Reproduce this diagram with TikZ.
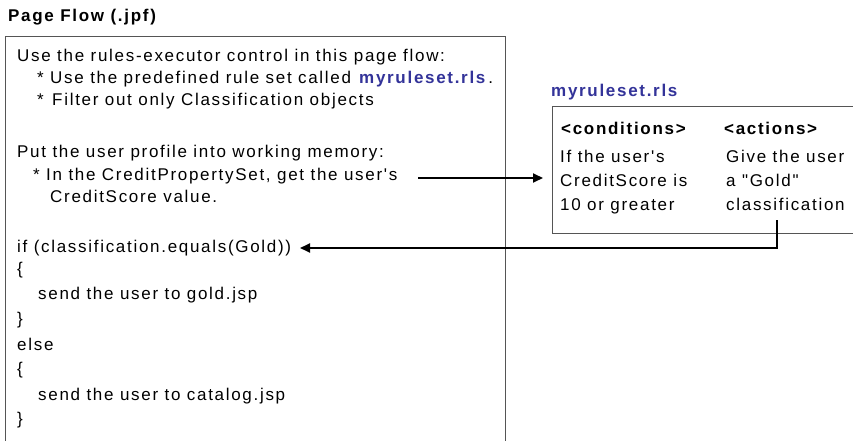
\documentclass[tikz,border=0pt]{standalone}
\usepackage{fontspec}
\setmainfont{Liberation Sans}[LetterSpace=10,Ligatures=TeXOff]
\usetikzlibrary{arrows.meta}
\definecolor{rsblue}{RGB}{51,51,153}
\definecolor{boxgray}{RGB}{85,85,85}
\tikzset{
  txt/.style={font=\fontsize{17}{20}\selectfont, inner sep=0pt, anchor=base west, text=black},
  boxframe/.style={draw=boxgray, line width=1.3pt, inner sep=0pt, anchor=north west},
  arr/.style={draw=black, line width=1.8pt, -{Triangle[length=10pt,width=9pt]}}
}
\begin{document}
\begin{tikzpicture}[x=1pt,y=-1pt]
\useasboundingbox (0,0) rectangle (853,441);
\clip (0,0) rectangle (853,441);
% titles
\node[txt] (title) at (8,22) {\bfseries Page Flow (.jpf)};
\node[txt] (rstitle) at (551,96) {\bfseries\color{rsblue}myruleset.rls};
% frames
\node[boxframe, minimum width=500pt, minimum height=450pt] (main) at (5,36) {};
\node[boxframe, minimum width=330pt, minimum height=127pt] (rules) at (552,106) {};
% page flow text
\node[txt] (t1) at (17,62) {Use the rules-executor control in this page flow:};
\node[txt] (t2) at (37,84) {* Use the predefined rule set called \textbf{\color{rsblue}myruleset.rls}\,.};
\node[txt] (t3) at (37,106) {*\ \hspace{2pt}Filter out only Classification objects};
\node[txt] (t4) at (17,157) {Put the user profile into working memory:};
\node[txt] (t5) at (33,180) {* In the CreditPropertySet, get the user's};
\node[txt] (t6) at (50,202) {CreditScore value.};
\node[txt] (t7) at (17,252) {if (classification.equals(Gold))};
\node[txt] (t8) at (17,274) {\{};
\node[txt] (t9) at (38,299) {send the user to gold.jsp};
\node[txt] (t10) at (17,324) {\}};
\node[txt] (t11) at (17,350) {else};
\node[txt] (t12) at (17,374) {\{};
\node[txt] (t13) at (38,400) {send the user to catalog.jsp};
\node[txt] (t14) at (17,424) {\}};
% rule set text
\node[txt] (c0) at (561,135) {\bfseries <conditions>};
\node[txt] (c1) at (560,162) {If the user's};
\node[txt] (c2) at (560,186) {CreditScore is};
\node[txt] (c3) at (560,210) {10 or greater};
\node[txt] (a0) at (724,135) {\bfseries <actions>};
\node[txt] (a1) at (726,162) {Give the user};
\node[txt] (a2) at (726,186) {a "Gold"};
\node[txt] (a3) at (726,210) {classification};
% connectors
\coordinate (p1) at (418,178);
\coordinate (p2) at (777,220);
\coordinate (p3) at (300,248);
\draw[arr] (p1) -- ([xshift=-9pt]rules.west |- p1);
\draw[arr] (p2) |- (p3);
\end{tikzpicture}
\end{document}
